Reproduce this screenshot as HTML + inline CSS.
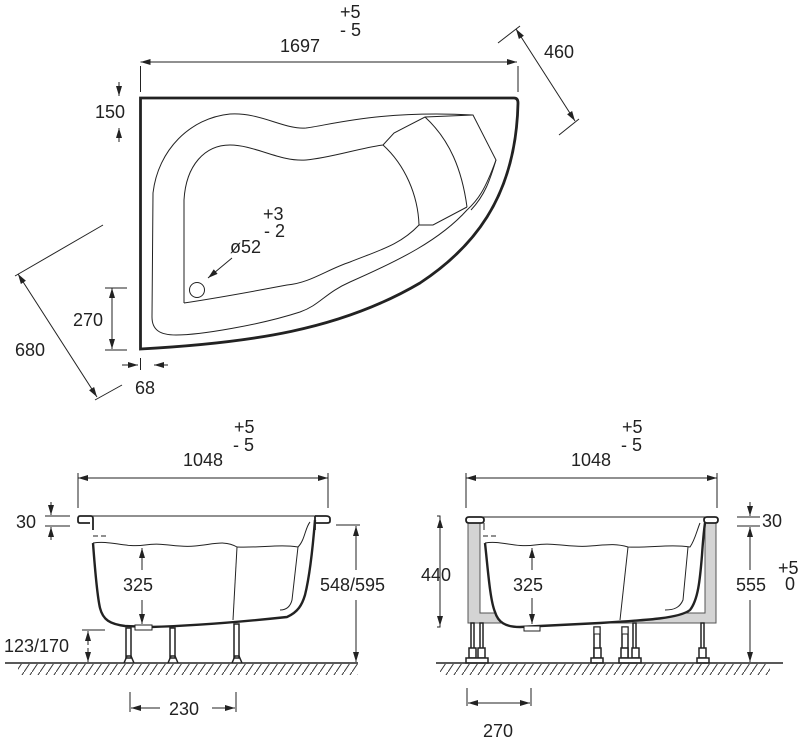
<!DOCTYPE html>
<html><head><meta charset="utf-8"><style>
html,body{margin:0;padding:0;background:#fff}
svg{display:block}
text{font-family:"Liberation Sans",sans-serif;font-size:18px;fill:#222}
</style></head><body>
<svg width="803" height="742" viewBox="0 0 803 742" xmlns="http://www.w3.org/2000/svg">
<defs>
<marker id="a" viewBox="0 0 10 6" refX="10" refY="3" markerWidth="11" markerHeight="6" markerUnits="userSpaceOnUse" orient="auto-start-reverse"><path d="M0,0L10,3L0,6z" fill="#222"/></marker>
<pattern id="h" patternUnits="userSpaceOnUse" width="8" height="12"><line x1="0" y1="12" x2="8" y2="0" stroke="#333" stroke-width="1"/></pattern>
</defs>
<g fill="none" stroke="#222" stroke-width="1">
<!-- TOP VIEW -->
<path d="M140.5,98 L514,98 Q518,98 518,103 C516,200 470,250 420,283 C340,330 250,343 140.5,349 Z" stroke-width="2.8"/>
<path d="M152,317 L153,193 C158,150 190,118 230,114 C260,112 285,130 306,128 C330,125 380,110 473,115 L496,160 C485,190 478,200 467,210 C440,240 400,260 350,282 C325,293 320,305 300,312 C260,325 200,335 176,335 C160,335 152,330 152,317 Z"/>
<path d="M184,303 L184,200 C186,165 205,145 230,145 C255,145 280,162 306,160 C330,158 360,148 383,145 L394,133 L425,117 L473,115"/>
<path d="M383,145 C405,165 418,195 419,225 L433,225 L467,207"/>
<path d="M419,225 C400,245 380,250 350,262 C326,270 310,283 287,285 C260,290 230,296 184,303"/>
<path d="M425,117 C450,140 462,170 467,207"/>
<path d="M496,160 C490,180 485,195 471,210"/>
<circle cx="197" cy="290" r="7.5"/>
<line x1="232" y1="258" x2="208" y2="278" marker-end="url(#a)"/>
<line x1="140.5" y1="62" x2="517" y2="62" marker-start="url(#a)" marker-end="url(#a)"/>
<line x1="140.5" y1="66" x2="140.5" y2="92"/><line x1="518" y1="66" x2="518" y2="92"/>
<line x1="516" y1="29" x2="575" y2="121" marker-start="url(#a)" marker-end="url(#a)"/>
<line x1="498" y1="43" x2="520" y2="26"/><line x1="559" y1="135" x2="579" y2="119"/>
<line x1="119" y1="82" x2="119" y2="96" marker-end="url(#a)"/>
<line x1="119" y1="142" x2="119" y2="128" marker-end="url(#a)"/>
<line x1="112" y1="288" x2="112" y2="349" marker-start="url(#a)" marker-end="url(#a)"/>
<line x1="105" y1="288" x2="127" y2="288"/><line x1="105" y1="350" x2="127" y2="350"/>
<line x1="18" y1="274" x2="97" y2="397" marker-start="url(#a)" marker-end="url(#a)"/>
<line x1="103" y1="225" x2="15" y2="276"/><line x1="122" y1="385" x2="95" y2="400"/>
<line x1="122" y1="365" x2="138" y2="365" marker-end="url(#a)"/><line x1="168" y1="365" x2="154" y2="365" marker-end="url(#a)"/>
<line x1="140.5" y1="358" x2="140.5" y2="370"/>

<!-- BOTTOM LEFT -->
<line x1="78" y1="478" x2="328" y2="478" marker-start="url(#a)" marker-end="url(#a)"/>
<line x1="78" y1="473" x2="78" y2="508"/><line x1="328" y1="473" x2="328" y2="508"/>
<line x1="80" y1="516" x2="328" y2="516"/>
<path d="M80,516 L91,516 Q93,516 93,519 L93,530 M80,516 Q78,516 78,519 L78,521 Q78,523 80,523 L90,523" stroke-width="1.8"/>
<path d="M315,516 L326,516 Q330,516 330,519 L330,521 Q330,523 327,523 L315,523 M315,516 L315,530" stroke-width="1.8"/>
<line x1="45" y1="516" x2="70" y2="516"/><line x1="45" y1="526" x2="70" y2="526"/>
<line x1="51" y1="502" x2="51" y2="515" marker-end="url(#a)"/><line x1="51" y1="540" x2="51" y2="527" marker-end="url(#a)"/>
<line x1="93" y1="536" x2="98" y2="536"/><line x1="101" y1="536" x2="106" y2="536"/>
<path d="M93,543 C95,570 97,595 100,608 C103,620 110,624 125,626 L150,627 C190,626 240,622 287,617 C298,612 302,605 305,595 C310,575 313,545 315,520" stroke-width="2.4"/>
<path d="M93,543 C110,540 125,548 145,545 C165,542 175,548 195,546 C215,544 225,540 237,547 C260,548 280,544 298,547 C305,540 305,528 310,522"/>
<path d="M237,547 L233,620"/><path d="M298,547 L292,600 C290,608 285,610 280,610"/>
<line x1="142" y1="570" x2="142" y2="548" marker-end="url(#a)"/><line x1="142" y1="600" x2="142" y2="624" marker-end="url(#a)"/>
<rect x="135" y="625" width="17" height="5" fill="#fff"/>
<g stroke-width="1.5">
<rect x="126" y="628" width="5" height="30" fill="#fff"/><rect x="170" y="628" width="5" height="30" fill="#fff"/><rect x="234" y="624" width="5" height="34" fill="#fff"/>
<path d="M124,663 L127,656 L131,656 L134,663 M168,663 L171,656 L175,656 L178,663 M232,663 L235,656 L239,656 L242,663"/>
</g>
<line x1="82" y1="630" x2="105" y2="630"/>
<line x1="88" y1="645" x2="88" y2="631" marker-end="url(#a)"/><line x1="88" y1="648" x2="88" y2="662" marker-end="url(#a)"/>
<line x1="336" y1="525" x2="360" y2="525"/>
<line x1="356" y1="570" x2="356" y2="526" marker-end="url(#a)"/><line x1="356" y1="600" x2="356" y2="662" marker-end="url(#a)"/>
<line x1="5" y1="663" x2="358" y2="663" stroke-width="1.5"/>
<line x1="130" y1="692" x2="130" y2="712"/><line x1="236" y1="692" x2="236" y2="712"/>
<line x1="160" y1="708" x2="131" y2="708" marker-end="url(#a)"/><line x1="212" y1="708" x2="235" y2="708" marker-end="url(#a)"/>

<!-- BOTTOM RIGHT -->
<line x1="466" y1="478" x2="717" y2="478" marker-start="url(#a)" marker-end="url(#a)"/>
<line x1="466" y1="473" x2="466" y2="508"/><line x1="717" y1="473" x2="717" y2="508"/>
<path d="M468,523 L468,623 L716,623 L716,523 L705,523 L705,613 L480,613 L480,523 Z" fill="#d4d4d4" stroke="#555"/>
<line x1="470" y1="517" x2="715" y2="517"/>
<path d="M469,517 L481,517 Q484,517 484,520 Q484,523 481,523 L469,523 Q466,523 466,520 Q466,517 469,517 Z" fill="#fff" stroke-width="1.8"/>
<path d="M707,517 L715,517 Q718,517 718,520 Q718,523 715,523 L707,523 Q704,523 704,520 Q704,517 707,517 Z" fill="#fff" stroke-width="1.8"/>
<line x1="484" y1="523" x2="484" y2="530"/>
<line x1="483" y1="536" x2="488" y2="536"/><line x1="491" y1="536" x2="496" y2="536"/>
<path d="M485,543 C488,570 490,600 495,612 C498,622 505,627 520,627 L600,623 C650,620 680,618 690,610 C698,600 700,580 702,555 C703,540 704,530 705,523" stroke-width="2.4" fill="#fff"/>
<path d="M485,543 C500,540 515,548 535,545 C555,542 570,548 590,546 C605,545 615,543 628,547 C650,548 670,544 690,547 C695,540 697,530 700,523"/>
<path d="M628,547 L620,620"/><path d="M688,547 L683,600 C680,607 675,610 665,610"/>
<line x1="532" y1="570" x2="532" y2="548" marker-end="url(#a)"/><line x1="532" y1="598" x2="532" y2="624" marker-end="url(#a)"/>
<rect x="524" y="626" width="16" height="5" fill="#fff"/>
<g stroke-width="1.5" fill="#fff">
<rect x="471" y="623" width="3" height="35"/><rect x="480" y="623" width="3" height="35"/>
<rect x="594" y="627" width="6" height="31"/><rect x="622" y="627" width="6" height="31"/><rect x="633" y="623" width="3" height="35"/><rect x="701" y="623" width="3" height="35"/>
<rect x="469" y="648" width="7" height="10"/><rect x="478" y="648" width="7" height="10"/><rect x="594" y="648" width="7" height="10"/><rect x="621" y="648" width="7" height="10"/><rect x="632" y="648" width="7" height="10"/><rect x="699" y="648" width="7" height="10"/>
<rect x="466" y="658" width="22" height="5"/><rect x="591" y="658" width="12" height="5"/><rect x="619" y="658" width="22" height="5"/><rect x="697" y="658" width="12" height="5"/>
</g>
<rect x="594" y="627" width="6" height="7" fill="#fff"/><rect x="622" y="627" width="6" height="7" fill="#fff"/>
<path d="M437,516 L440,516 L440,627 L437,627"/>
<line x1="440" y1="553" x2="440" y2="518" marker-end="url(#a)"/><line x1="440" y1="597" x2="440" y2="626" marker-end="url(#a)"/>
<line x1="737" y1="517" x2="760" y2="517"/><line x1="737" y1="526" x2="760" y2="526"/>
<line x1="750" y1="502" x2="750" y2="516" marker-end="url(#a)"/>
<line x1="750" y1="570" x2="750" y2="527" marker-end="url(#a)"/><line x1="750" y1="600" x2="750" y2="662" marker-end="url(#a)"/>
<line x1="436" y1="663" x2="783" y2="663" stroke-width="1.5"/>
<line x1="467" y1="688" x2="467" y2="706"/><line x1="531" y1="688" x2="531" y2="706"/>
<line x1="468" y1="703" x2="530" y2="703" marker-start="url(#a)" marker-end="url(#a)"/>
</g>
<rect x="18" y="664" width="340" height="11" fill="url(#h)"/>
<rect x="440" y="664" width="330" height="11" fill="url(#h)"/>

<text x="280" y="52">1697</text><text x="340" y="18">+5</text><text x="340" y="36">- 5</text>
<text x="544" y="58">460</text>
<text x="95" y="118">150</text>
<text x="73" y="326">270</text>
<text x="15" y="356">680</text>
<text x="135" y="394">68</text>
<text x="263" y="220">+3</text><text x="264" y="237">- 2</text><text x="230" y="253">ø52</text>

<text x="183" y="466">1048</text><text x="234" y="433">+5</text><text x="233" y="451">- 5</text>
<text x="16" y="528">30</text>
<text x="123" y="591">325</text>
<text x="320" y="591">548/595</text>
<text x="4" y="652">123/170</text>
<text x="169" y="715">230</text>

<text x="571" y="466">1048</text><text x="622" y="433">+5</text><text x="621" y="451">- 5</text>
<text x="421" y="581">440</text>
<text x="513" y="591">325</text>
<text x="762" y="527">30</text>
<text x="736" y="591">555</text><text x="778" y="574">+5</text><text x="785" y="590">0</text>
<text x="483" y="737">270</text>
</svg>
</body></html>
